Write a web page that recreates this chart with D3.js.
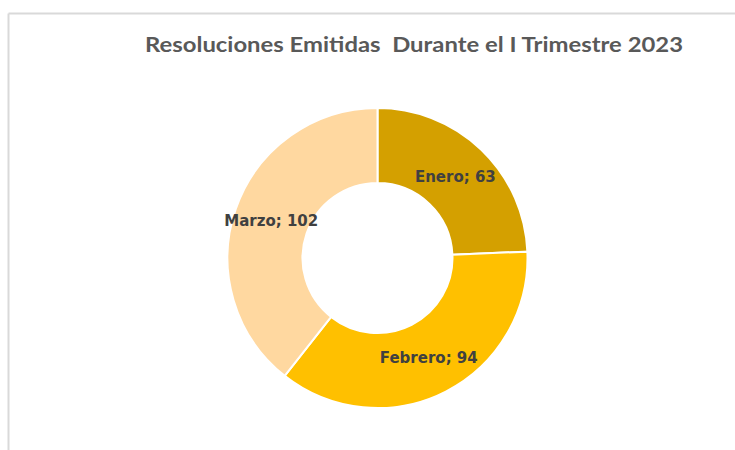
<!DOCTYPE html>
<html><head><meta charset="utf-8">
<script src="https://cdn.jsdelivr.net/npm/d3@7"></script>
<style>body{margin:0;background:#fff;}svg{display:block;}</style>
</head><body>
<script>
const categories = ["Enero", "Febrero", "Marzo"];
const values = [63, 94, 102];
const colors = ["#D4A000", "#FFC000", "#FFD8A0"];
const title = "Resoluciones Emitidas  Durante el I Trimestre 2023";

const W = 735, H = 450;
const svg = d3.select("body").append("svg").attr("width", W).attr("height", H);

// frame lines
svg.append("line").attr("x1", 8.5).attr("y1", 13.5).attr("x2", W).attr("y2", 13.5)
  .attr("stroke", "#d9d9d9").attr("stroke-width", 2);
svg.append("line").attr("x1", 8.5).attr("y1", 13.5).attr("x2", 8.5).attr("y2", H)
  .attr("stroke", "#d9d9d9").attr("stroke-width", 2);

svg.append("text").attr("x", 145).attr("y", 52)
  .attr("font-family", "'Century Gothic', Lato, sans-serif")
  .attr("font-weight", "bold").attr("font-size", 21)
  .attr("fill", "#595959")
  .attr("textLength", 538).attr("lengthAdjust", "spacingAndGlyphs")
  .style("white-space", "pre")
  .text(title);

const cx = 377.5, cy = 258, rOut = 150, rIn = 75;
const data = categories.map((c, i) => ({cat: c, val: values[i], col: colors[i]}));
const pie = d3.pie().value(d => d.val).sort(null);
const arc = d3.arc().innerRadius(rIn).outerRadius(rOut);
const g = svg.append("g").attr("transform", `translate(${cx},${cy})`);
const arcs = pie(data);
g.selectAll("path").data(arcs).join("path")
  .attr("d", arc).attr("fill", d => d.data.col)
  .attr("stroke", "#fff").attr("stroke-width", 2);
g.selectAll("text").data(arcs).join("text")
  .attr("transform", d => `translate(${arc.centroid(d)})`)
  .attr("text-anchor", "middle").attr("dy", "0.35em")
  .attr("font-family", "'Century Gothic', 'DejaVu Sans', sans-serif")
  .attr("font-weight", "bold").attr("font-size", 15)
  .attr("fill", "#404040")
  .text(d => `${d.data.cat}; ${d.data.val}`);
</script>
</body></html>
